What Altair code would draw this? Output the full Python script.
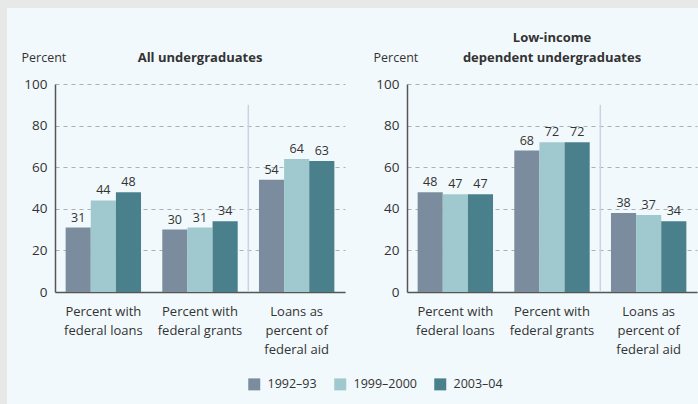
import altair as alt
import pandas as pd

measures = ["Percent with|federal loans", "Percent with|federal grants", "Loans as|percent of|federal aid"]
periods = ["1992–93", "1999–2000", "2003–04"]
colors = ["#7b8c9e", "#9fc9cf", "#4a7f8c"]

all_loans = [31, 44, 48]
all_grants = [30, 31, 34]
all_aid = [54, 64, 63]
low_loans = [48, 47, 47]
low_grants = [68, 72, 72]
low_aid = [38, 37, 34]

FONT = "Open Sans"
TEXT = "#333333"


def make_df(groups):
    rows = []
    for m, vals in zip(measures, groups):
        for p, v in zip(periods, vals):
            rows.append({"measure": m, "period": p, "value": v})
    return pd.DataFrame(rows)


df_all = make_df([all_loans, all_grants, all_aid])
df_low = make_df([low_loans, low_grants, low_aid])
sep_df = pd.DataFrame({"measure": [measures[1]], "top": [90], "bottom": [0]})


def panel(data, title):
    xscale = alt.Scale(domain=measures, paddingInner=0.22, paddingOuter=0.11)
    xoff = alt.XOffset("period:N", sort=periods, scale=alt.Scale(domain=periods, paddingInner=0, paddingOuter=0))
    x = alt.X(
        "measure:N", sort=measures, title=None, scale=xscale,
        axis=alt.Axis(
            labelExpr="split(datum.label, '|')", labelAngle=0, ticks=False, bandPosition=0.5,
            labelAlign="center", domainColor="#555555", domainWidth=1.5, labelFontSize=13,
            labelLineHeight=19, labelPadding=13, labelColor=TEXT, labelFont=FONT,
        ),
    )
    y = alt.Y(
        "value:Q", scale=alt.Scale(domain=[0, 100]),
        axis=alt.Axis(
            values=[0, 20, 40, 60, 80, 100], title="Percent", titleAngle=0,
            titleAlign="left", titleBaseline="bottom", titleX=-34, titleY=-20,
            titleFontSize=12.5, titleFontWeight="normal", titleColor=TEXT, titleFont=FONT,
            ticks=False, domainColor="#555555", domainWidth=1.5,
            grid=True, gridDash=[4, 4], gridColor="#a8b0b8", gridWidth=1,
            labelFontSize=13.5, labelPadding=8, labelColor=TEXT, labelFont=FONT,
        ),
    )
    base = alt.Chart(data)
    bars = base.mark_bar().encode(
        x=x,
        xOffset=xoff,
        y=y,
        color=alt.Color(
            "period:N", sort=periods, scale=alt.Scale(domain=periods, range=colors),
            legend=alt.Legend(
                title=None, orient="none", direction="horizontal", legendX=193, legendY=370,
                symbolType="square", symbolSize=144, symbolStrokeWidth=0, symbolOpacity=1,
                labelFontSize=12.5, labelColor=TEXT, labelFont=FONT, labelOffset=7,
                columnPadding=17, padding=0,
            ),
        ),
    )
    labels = base.mark_text(baseline="bottom", dy=-3, fontSize=12.5, color=TEXT, font=FONT).encode(
        x=alt.X("measure:N", sort=measures, scale=xscale),
        xOffset=xoff,
        y=alt.Y("value:Q"),
        text=alt.Text("value:Q"),
    )
    sep = alt.Chart(sep_df).mark_rule(color="#c9d5de", strokeWidth=1.5, xOffset=10.6).encode(
        x=alt.X("measure:N", sort=measures, scale=xscale, bandPosition=1),
        y=alt.Y("top:Q"),
        y2=alt.Y2("bottom:Q"),
    )
    return alt.layer(bars, labels, sep).properties(
        width=290, height=208,
        title=alt.TitleParams(
            text=title, fontSize=13, fontWeight="bold", color=TEXT, font=FONT,
            anchor="middle", baseline="bottom", offset=-27, lineHeight=20, frame="group",
        ),
    )


# light panel behind the whole figure (grey frame shows on top and left)
bg = alt.Chart(pd.DataFrame({"panel": ["bg"]})).mark_rect(color="#f2f9fc").encode(
    x=alt.value(-48), x2=alt.value(643), y=alt.value(0), y2=alt.value(396),
).properties(width=1, height=1)

left = panel(df_all, "All undergraduates")
right = panel(df_low, ["Low-income", "dependent undergraduates"])

panels = alt.hconcat(left, right, spacing=62, bounds="flush")

chart = alt.vconcat(bg, panels, spacing=75, bounds="flush").properties(
    background="#e8e8e8",
    padding={"left": 7, "top": 8, "right": 0, "bottom": 0},
).configure_view(stroke=None)

chart.save("out.html", embed_options={"renderer": "svg", "actions": False})
